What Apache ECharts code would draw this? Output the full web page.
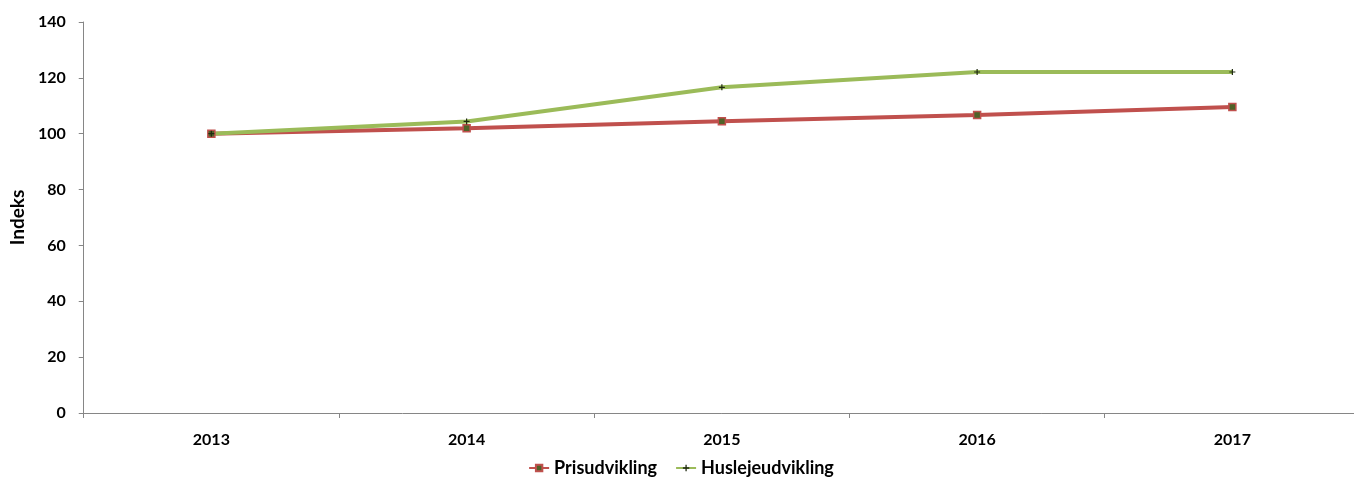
<!DOCTYPE html>
<html><head><meta charset="utf-8">
<script src="https://cdn.jsdelivr.net/npm/echarts@6/dist/echarts.min.js"></script>
<style>html,body{margin:0;padding:0;background:#fff;overflow:hidden;width:1354px;height:479px}#c{width:1362px;height:479px}</style>
</head><body><div id="c"></div>
<script>
const categories = ['2013','2014','2015','2016','2017'];
const prisudvikling = [100, 102.0, 104.5, 106.7, 109.6];
const huslejeudvikling = [100, 104.4, 116.6, 122.1, 122.1];
const yTicks = [0, 20, 40, 60, 80, 100, 120, 140];

const font = 'Lato, "Open Sans", sans-serif';
const chart = echarts.init(document.getElementById('c'));
chart.setOption({
  animation: false,
  grid: { left: 80, top: 22, right: 2, bottom: 66, containLabel: false },
  legend: {
    bottom: -3, left: 'center', itemGap: 18, itemWidth: 20, itemHeight: 8,
    textStyle: { fontFamily: font, fontWeight: 'bold', fontSize: 18, color: '#000' },
    data: ['Prisudvikling', 'Huslejeudvikling']
  },
  xAxis: {
    type: 'category', data: categories, boundaryGap: true,
    axisLine: { lineStyle: { color: '#868686', width: 1 } },
    axisTick: { show: true, length: 5, inside: false, lineStyle: { color: '#868686' } },
    axisLabel: { fontFamily: font, fontWeight: 'bold', fontSize: 16, color: '#000', margin: 19 }
  },
  yAxis: {
    type: 'value', min: 0, max: 140, interval: 20,
    name: 'Indeks', nameLocation: 'middle', nameGap: 53, nameRotate: 90,
    nameTextStyle: { fontFamily: font, fontWeight: 'bold', fontSize: 19, color: '#000' },
    axisLine: { show: true, lineStyle: { color: '#868686' } },
    axisTick: { show: true, length: 5, lineStyle: { color: '#868686' } },
    splitLine: { show: false },
    axisLabel: { fontFamily: font, fontWeight: 'bold', fontSize: 16, color: '#000', margin: 18,
      formatter: v => yTicks.includes(v) ? String(v) : '' }
  },
  series: [
    { name: 'Prisudvikling', type: 'line', data: prisudvikling,
      symbol: 'rect', symbolSize: 7, showAllSymbol: true,
      lineStyle: { color: '#C0504D', width: 4 },
      itemStyle: { color: '#4F6228', borderColor: '#C0504D', borderWidth: 1.5 } },
    { name: 'Huslejeudvikling', type: 'line', data: huslejeudvikling,
      symbol: 'path://M2,0L3,0L3,2L5,2L5,3L3,3L3,5L2,5L2,3L0,3L0,2L2,2Z', symbolSize: 6, showAllSymbol: true,
      lineStyle: { color: '#9BBB59', width: 4 },
      itemStyle: { color: '#1F2A10', borderWidth: 0 } }
  ]
});
</script></body></html>
